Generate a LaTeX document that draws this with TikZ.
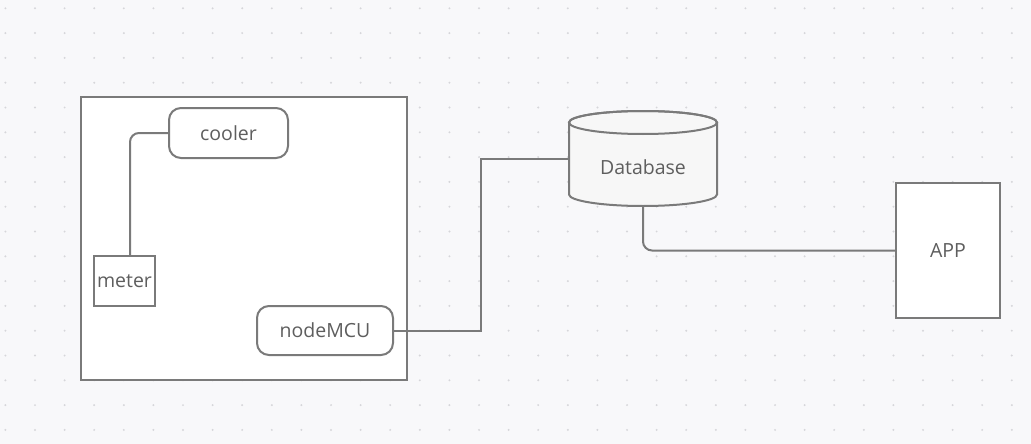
\documentclass[tikz,border=0pt]{standalone}
\usepackage{fontspec}
\setmainfont{Open Sans}
\definecolor{bg}{HTML}{F8F8FA}
\definecolor{dotc}{HTML}{D6D6DA}
\definecolor{linec}{HTML}{7A7A7A}
\definecolor{txt}{HTML}{5E5E5E}
\definecolor{dbfill}{HTML}{F7F7F7}
\begin{document}
\begin{tikzpicture}[x=1pt,y=1pt,
  every node/.style={font=\fontsize{19.5}{22}\selectfont, text=txt},
  boxsq/.style={draw=linec, line width=2pt, fill=white, inner sep=0pt},
  boxrd/.style={boxsq, rounded corners=12pt},
  conn/.style={draw=linec, line width=2pt, rounded corners=9pt}]
\fill[bg] (0,0) rectangle (1031,-444);
\useasboundingbox (0,0) rectangle (1031,-444);
\foreach \i in {-1,...,33}{
  \foreach \j in {0,...,17}{
    \fill[dotc] ({35+29.6*\i},{-(8.3+24.8*\j)}) circle (1.1pt);
  }
}
% outer container
\node[boxsq, minimum width=326pt, minimum height=283pt] (outer) at (243.5,-238.5) {};
\node[boxrd, minimum width=119pt, minimum height=50pt] (cooler) at (228.5,-133) {cooler};
\node[boxsq, minimum width=61pt, minimum height=50pt] (meter) at (124.5,-281) {meter};
\node[boxrd, minimum width=136pt, minimum height=49pt] (mcu) at (325,-330.5) {nodeMCU};
\node[boxsq, minimum width=104pt, minimum height=135pt] (app) at (948,-250.5) {APP};
% database cylinder
\node[inner sep=0pt, minimum width=148pt, minimum height=95pt] (db) at (643,-158.5) {};
\filldraw[fill=dbfill, draw=linec, line width=2pt]
  (569,-122.5) -- (569,-194.5) arc (180:360:74pt and 11.5pt) -- (717,-122.5)
  arc (0:180:74pt and 11.5pt) -- cycle;
\draw[linec, line width=2pt] (643,-122.5) ellipse (74pt and 11.5pt);
\node (dblabel) at (643,-167) {Database};
% connectors
\coordinate (mtop) at (130,-256);
\draw[conn] (cooler.west) -| (mtop);
\coordinate (mid) at (481,-330.5);
\draw[conn, rounded corners=0pt] (mcu.east) -- (mid) |- (db.west);
\draw[conn] (db.south) |- (app.west);
\end{tikzpicture}
\end{document}
